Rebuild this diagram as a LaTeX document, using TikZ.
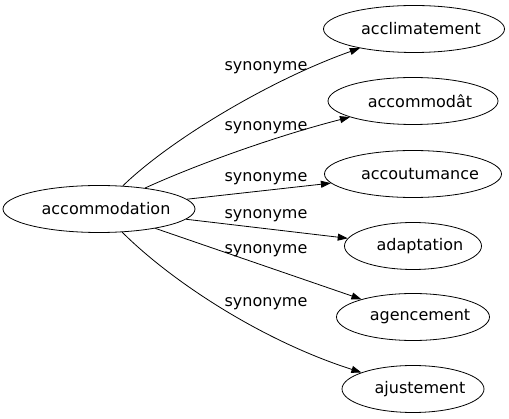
\documentclass[tikz,border=0pt]{standalone}
\usepackage{fontspec}
\setmainfont{DejaVu Sans}
\usetikzlibrary{shapes.geometric,arrows.meta}

\begin{document}
\begin{tikzpicture}[x=1pt, y=-1pt, >={Triangle[length=10pt,width=7pt]}, line width=0.8pt,
  term/.style={ellipse, draw, inner sep=0pt, minimum height=47pt, font=\fontsize{16}{18}\selectfont,
    execute at begin node=\hspace*{7pt}, execute at end node=\hspace*{-7pt}},
  syn/.style={anchor=base, inner sep=0pt, font=\fontsize{16}{18}\selectfont}]
\useasboundingbox (0,0) rectangle (509,419);
\path
(99,209)  node[term, minimum width=192pt] (acc) {accommodation}
(414,29)  node[term, minimum width=181pt] (t1) {acclimatement}
(413,101) node[term, minimum width=170pt] (t2) {accommodât}
(413,174) node[term, minimum width=177pt] (t3) {accoutumance}
(413,246) node[term, minimum width=137pt] (t4) {adaptation}
(413,317) node[term, minimum width=153pt] (t5) {agencement}
(413,389) node[term, minimum width=142pt] (t6) {ajustement};

\node[syn] (s1) at (266,70.5)  {synonyme};
\node[syn] (s2) at (266,130.5) {synonyme};
\node[syn] (s3) at (266,181.5) {synonyme};
\node[syn] (s4) at (266,219)   {synonyme};
\node[syn] (s5) at (266,254)   {synonyme};
\node[syn] (s6) at (266,306.5) {synonyme};

\draw[->] (acc) .. controls (170,140) and (270,80) .. (t1);
\draw[->] (acc) .. controls (200,163) and (280,135) .. (t2);
\draw[->] (acc) -- (t3);
\draw[->] (acc) -- (t4);
\draw[->] (acc) -- (t5);
\draw[->] (acc) .. controls (170,280) and (260,340) .. (t6);

\end{tikzpicture}
\end{document}
